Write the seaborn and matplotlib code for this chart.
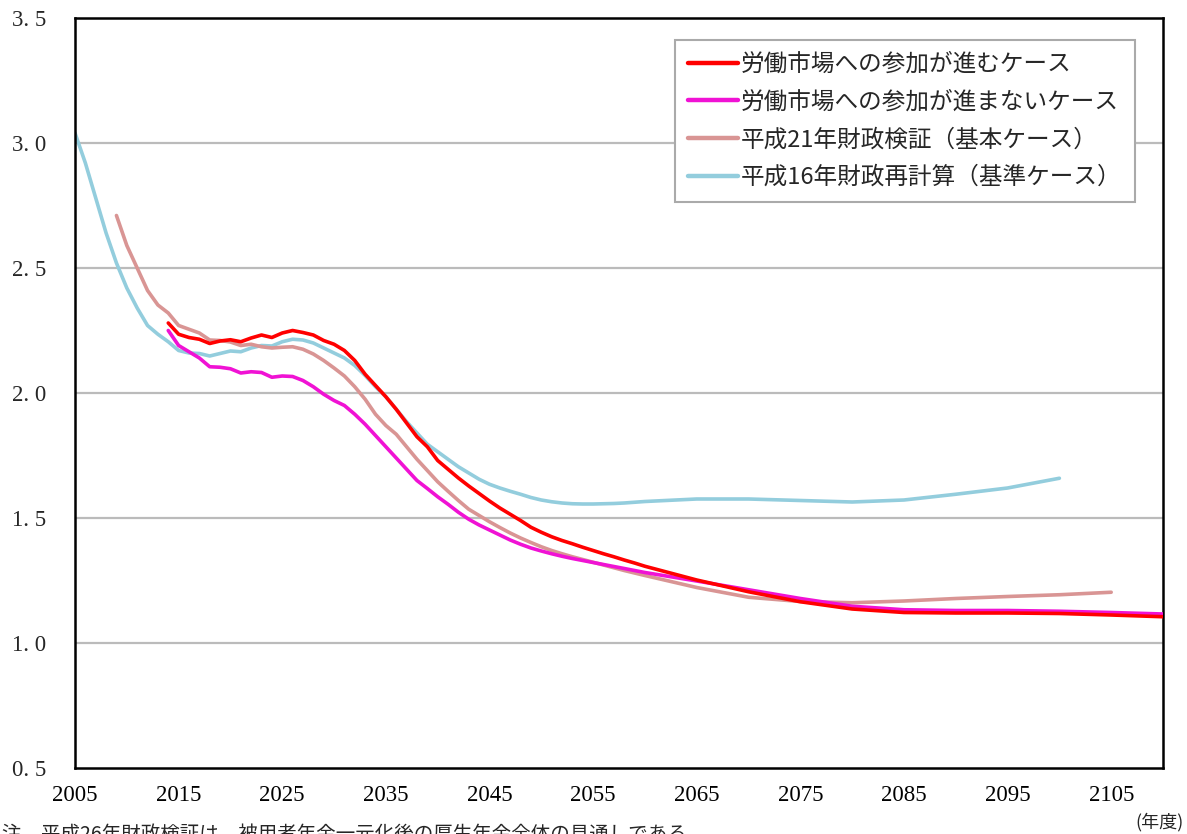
import matplotlib
matplotlib.use("Agg")
import matplotlib.pyplot as plt
import seaborn as sns
import pandas as pd
from matplotlib.lines import Line2D

# ---------------- data ----------------
labels = [
    "労働市場への参加が進むケース",
    "労働市場への参加が進まないケース",
    "平成21年財政検証（基本ケース）",
    "平成16年財政再計算（基準ケース）",
]
colors = ["#FF0000", "#F012D4", "#D99594", "#93CDDD"]

years_a = list(range(2014, 2061)) + [2065, 2070, 2075, 2080, 2085, 2090, 2095, 2100, 2105, 2110]
red = [2.28, 2.235, 2.222, 2.215, 2.198, 2.208, 2.213, 2.205, 2.22, 2.232,
       2.222, 2.24, 2.25, 2.242, 2.232, 2.21, 2.195, 2.17, 2.13, 2.075,
       2.03, 1.985, 1.935, 1.88, 1.825, 1.785, 1.73, 1.695, 1.66, 1.628,
       1.598, 1.568, 1.54, 1.515, 1.49, 1.463, 1.443, 1.425, 1.41, 1.397,
       1.383, 1.37, 1.357, 1.345, 1.332, 1.32, 1.307,
       1.252, 1.205, 1.165, 1.136, 1.122, 1.12, 1.12, 1.118, 1.112, 1.105]
magenta = [2.25, 2.19, 2.165, 2.14, 2.105, 2.103, 2.097, 2.08, 2.085, 2.082,
           2.063, 2.068, 2.066, 2.05, 2.025, 1.995, 1.97, 1.95, 1.915, 1.875,
           1.83, 1.785, 1.74, 1.695, 1.65, 1.618, 1.585, 1.555, 1.523, 1.495,
           1.472, 1.452, 1.432, 1.412, 1.395, 1.38, 1.368, 1.357, 1.347, 1.338,
           1.33, 1.322, 1.314, 1.306, 1.298, 1.29, 1.282,
           1.248, 1.213, 1.178, 1.147, 1.133, 1.13, 1.13, 1.127, 1.122, 1.116]

years_b = list(range(2009, 2061)) + [2065, 2070, 2075, 2080, 2085, 2090, 2095, 2100, 2105]
rose = [2.71, 2.59, 2.50, 2.41, 2.352, 2.32, 2.27, 2.255, 2.24, 2.212,
        2.21, 2.204, 2.19, 2.195, 2.185, 2.18, 2.183, 2.185, 2.175, 2.156,
        2.13, 2.1, 2.068, 2.025, 1.975, 1.915, 1.87, 1.835, 1.785, 1.735,
        1.69, 1.645, 1.607, 1.57, 1.535, 1.51, 1.485, 1.462, 1.44, 1.42,
        1.402, 1.385, 1.37, 1.357, 1.345, 1.334, 1.323, 1.312, 1.301, 1.29,
        1.28, 1.27,
        1.222, 1.183, 1.166, 1.161, 1.168, 1.178, 1.186, 1.193, 1.203]

years_c = list(range(2005, 2061)) + [2065, 2070, 2075, 2080, 2085, 2090, 2095, 2100]
blue = [3.04, 2.92, 2.78, 2.64, 2.52, 2.42, 2.34, 2.27, 2.235, 2.205,
        2.17, 2.16, 2.158, 2.148, 2.158, 2.168, 2.165, 2.18, 2.19, 2.188,
        2.205, 2.215, 2.212, 2.2, 2.18, 2.16, 2.14, 2.11, 2.07, 2.025,
        1.985, 1.935, 1.885, 1.84, 1.795, 1.765, 1.735, 1.705, 1.68, 1.655,
        1.635, 1.62, 1.607, 1.595, 1.582, 1.572, 1.565, 1.56, 1.557, 1.556,
        1.556, 1.557, 1.558, 1.56, 1.563, 1.566,
        1.576, 1.576, 1.57, 1.564, 1.572, 1.595, 1.62, 1.659]

x_ticks = [2005, 2015, 2025, 2035, 2045, 2055, 2065, 2075, 2085, 2095, 2105]
y_ticks = [0.5, 1.0, 1.5, 2.0, 2.5, 3.0, 3.5]
y_tick_labels = ["0. 5", "1. 0", "1. 5", "2. 0", "2. 5", "3. 0", "3. 5"]
x_unit = "(年度)"
note = "注　平成26年財政検証は、被用者年金一元化後の厚生年金全体の見通しである。"

# ---------------- frame ----------------
frames = []
for name, yrs, vals in [(labels[0], years_a, red), (labels[1], years_a, magenta),
                        (labels[2], years_b, rose), (labels[3], years_c, blue)]:
    frames.append(pd.DataFrame({"year": yrs, "value": vals, "series": name}))
df = pd.concat(frames, ignore_index=True)

sns.set_style("white")
plt.rcParams["font.family"] = ["Noto Sans CJK JP", "DejaVu Sans"]

W, H = 1187, 834
fig = plt.figure(figsize=(W / 100, H / 100), dpi=100)
ax = fig.add_axes([75 / W, (H - 768) / H, (1163 - 75) / W, 750 / H])

for yv in y_ticks[1:-1]:
    ax.axhline(yv, color="#BBBBBB", lw=1.6, zorder=0)

sns.lineplot(data=df, x="year", y="value", hue="series",
             hue_order=labels, palette=dict(zip(labels, colors)),
             linewidth=2.6, ax=ax, legend=False, sort=True,
             estimator=None)
zmap = {colors[0].upper(): 5, colors[1].upper(): 4, colors[2].upper(): 3, colors[3].upper(): 2}
for line in ax.get_lines():
    c = matplotlib.colors.to_hex(line.get_color()).upper()
    if c in zmap:
        line.set_zorder(zmap[c])

ax.set_xlim(2005, 2110)
ax.set_ylim(0.5, 3.5)
ax.set_xticks(x_ticks)
ax.set_xticklabels([str(t) for t in x_ticks], fontfamily="Liberation Serif", fontsize=16.5)
ax.set_yticks(y_ticks)
ax.set_yticklabels(y_tick_labels, fontfamily="Liberation Serif", fontsize=16.5)
ax.tick_params(axis="x", direction="in", length=6, width=1.3, pad=12, colors="black")
ax.tick_params(axis="y", length=0, pad=21)
ax.set_xlabel("")
ax.set_ylabel("")
for side in ["left", "bottom", "top", "right"]:
    ax.spines[side].set_visible(True)
    ax.spines[side].set_color("black")
    ax.spines[side].set_linewidth(1.8)

handles = [Line2D([0], [0], color=c, lw=3.2) for c in colors]
leg = ax.legend(handles, labels, loc="upper left",
                bbox_to_anchor=((675 - 75) / 1088, (768 - 40) / 750),
                borderaxespad=0, fontsize=17, handlelength=2.1,
                handletextpad=0.15, labelspacing=0.62, borderpad=0.55,
                fancybox=False, frameon=True, framealpha=1)
leg.get_frame().set_edgecolor("#AAAAAA")
leg.get_frame().set_linewidth(1.5)
leg.set_zorder(10)

fig.text(1184 / W, 1 - 822 / H, x_unit, ha="right", va="center", fontsize=13)
fig.text(2 / W, 1 - 824 / H, note, ha="left", va="top", fontsize=14)

fig.savefig("out.png", dpi=100, facecolor="white")
